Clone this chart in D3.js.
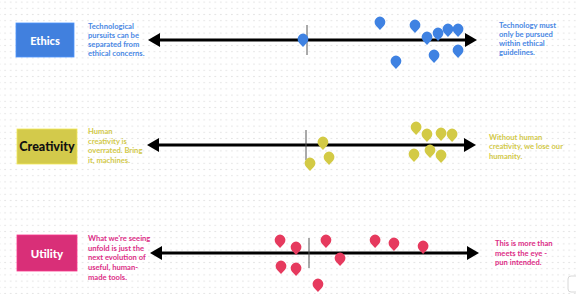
<!DOCTYPE html>
<html>
<head>
<meta charset="utf-8">
<script src="https://cdn.jsdelivr.net/npm/d3@7"></script>
<style>
  html, body { margin: 0; padding: 0; background: #fff; }
  svg { display: block; }
  text { font-family: Lato, "Open Sans", sans-serif; font-weight: 700; }
</style>
</head>
<body>
<div id="chart"></div>
<script>
// categories and their statements at both ends of the spectrum
const categories = ["Ethics", "Creativity", "Utility"];
const leftStatements = [
    ["Technological", "pursuits can be", "separated from", "ethical concerns."],
    ["Human", "creativity is", "overrated. Bring", "it, machines."],
    ["What we're seeing", "unfold is just the", "next evolution of", "useful, human-", "made tools."]
];
const rightStatements = [
    ["Technology must", "only be pursued", "within ethical", "guidelines."],
    ["Without human", "creativity, we lose our", "humanity."],
    ["This is more than", "meets the eye -", "pun intended."]
];

// pin positions: score on the -10..10 spectrum, vertical spread -1..1
const ethicsScore = [-0.25, 4.56, 6.75, 7.5, 8.19, 8.81, 9.44, 9.44, 7.94, 5.56];
const ethicsSpread = [-0.04, -0.72, -0.6, -0.12, -0.28, -0.44, -0.44, 0.4, 0.6, 0.84];
const creativityScore = [1.06, 1.44, 0.25, 6.88, 7.56, 8.44, 9.13, 6.75, 7.75, 8.44];
const creativitySpread = [-0.12, 0.48, 0.72, -0.72, -0.44, -0.48, -0.44, 0.36, 0.2, 0.4];
const utilityScore = [-1.81, -0.81, -1.75, -0.81, 1.06, 1.94, 0.56, 4.13, 5.31, 7.13];
const utilitySpread = [-0.52, -0.24, 0.52, 0.6, -0.52, 0.2, 1.24, -0.52, -0.4, -0.28];

const W = 576, H = 294;
const rowY = [40, 145, 253];
const rowDx = [0, -1, 2];
const boxes = [
    { x: 16, y: 23, w: 58, h: 34, fill: "#4180de", text: "#fff", size: 11 },
    { x: 17, y: 129, w: 60, h: 35, fill: "#d3ca4b", text: "#111", size: 12.5 },
    { x: 17, y: 235, w: 60, h: 36, fill: "#d92f78", text: "#fff", size: 11.5 }
];
const textColors = ["#4a88e4", "#d2c94a", "#dc2d86"];
const pinColors = ["#3f82e2", "#d3ca45", "#e63a5e"];
const rightTextX = [499, 489, 495];
const leftTextY = [29, 134.2, 240.8];
const rightTextY = [27.6, 139.6, 246.2];
const lineHeights = [9, 9.5, 9.8];
const rightLineHeights = [9, 9.6, 9.3];

const pinsByRow = [
    ethicsScore.map((s, i) => ({ score: s, spread: ethicsSpread[i] })),
    creativityScore.map((s, i) => ({ score: s, spread: creativitySpread[i] })),
    utilityScore.map((s, i) => ({ score: s, spread: utilitySpread[i] }))
];

const svg = d3.select("#chart").append("svg")
    .attr("width", W)
    .attr("height", H);

// dotted canvas background
const defs = svg.append("defs");
const pattern = defs.append("pattern")
    .attr("id", "dots")
    .attr("patternUnits", "userSpaceOnUse")
    .attr("x", 2.4).attr("y", -1)
    .attr("width", 5.53).attr("height", 6.2);
pattern.append("circle")
    .attr("cx", 2.76).attr("cy", 3.1).attr("r", 0.65)
    .attr("fill", "#d6d6d6");
svg.append("rect").attr("width", W).attr("height", H).attr("fill", "url(#dots)");

// small ui control at the bottom right corner
svg.append("rect")
    .attr("x", 568).attr("y", 276).attr("width", 20).attr("height", 16).attr("rx", 3)
    .attr("fill", "#fff").attr("stroke", "#d8d8d8");

const x = d3.scaleLinear().domain([-10, 10]).range([147, 467]);
const yOff = d3.scaleLinear().domain([-1, 1]).range([-25, 25]);

// map pin: head radius r, tip d below the head centre
const r = 5.4, d = 8;
const px = r * Math.sqrt(1 - (r / d) ** 2), py = r * r / d;
const pinPath = `M0,${d}L${-px},${py}A${r},${r} 0 1 1 ${px},${py}Z`;

categories.forEach((cat, i) => {
    const g = svg.append("g").attr("transform", `translate(${rowDx[i]},${rowY[i]})`);

    // category box
    const b = boxes[i];
    svg.append("rect")
        .attr("x", b.x).attr("y", b.y).attr("width", b.w).attr("height", b.h)
        .attr("fill", b.fill)
        .attr("stroke", d3.color(b.fill).brighter(0.4)).attr("stroke-width", 0.8);
    svg.append("text")
        .attr("x", b.x + b.w / 2).attr("y", b.y + b.h / 2)
        .attr("text-anchor", "middle").attr("dominant-baseline", "central")
        .attr("font-size", b.size).attr("fill", b.text)
        .style("font-weight", 900)
        .text(cat);

    // statements
    svg.append("text")
        .attr("font-size", 7.6).attr("fill", textColors[i])
        .selectAll("tspan").data(leftStatements[i]).join("tspan")
        .attr("x", 88).attr("y", (t, j) => leftTextY[i] + j * lineHeights[i])
        .text(t => t);
    svg.append("text")
        .attr("font-size", 7.6).attr("fill", textColors[i])
        .selectAll("tspan").data(rightStatements[i]).join("tspan")
        .attr("x", rightTextX[i]).attr("y", (t, j) => rightTextY[i] + j * rightLineHeights[i])
        .text(t => t);

    // double-headed arrow
    const x0 = x(-10) + 1, x1 = x(10) + 10;
    g.append("line")
        .attr("x1", x0 + 8).attr("x2", x1 - 8)
        .attr("stroke", "#000").attr("stroke-width", 3.2);
    g.append("path")
        .attr("d", `M${x0},0L${x0 + 12},-7L${x0 + 12},7Z`).attr("fill", "#000");
    g.append("path")
        .attr("d", `M${x1},0L${x1 - 12},-7L${x1 - 12},7Z`).attr("fill", "#000");

    // neutral marker
    g.append("line")
        .attr("x1", x(0)).attr("x2", x(0))
        .attr("y1", -15).attr("y2", 15)
        .attr("stroke", "#555").attr("stroke-width", 1);

    // pins
    g.selectAll("path.pin").data(pinsByRow[i]).join("path")
        .attr("class", "pin")
        .attr("d", pinPath)
        .attr("transform", p => `translate(${x(p.score)},${yOff(p.spread)})`)
        .attr("fill", pinColors[i]);
});
</script>
</body>
</html>
